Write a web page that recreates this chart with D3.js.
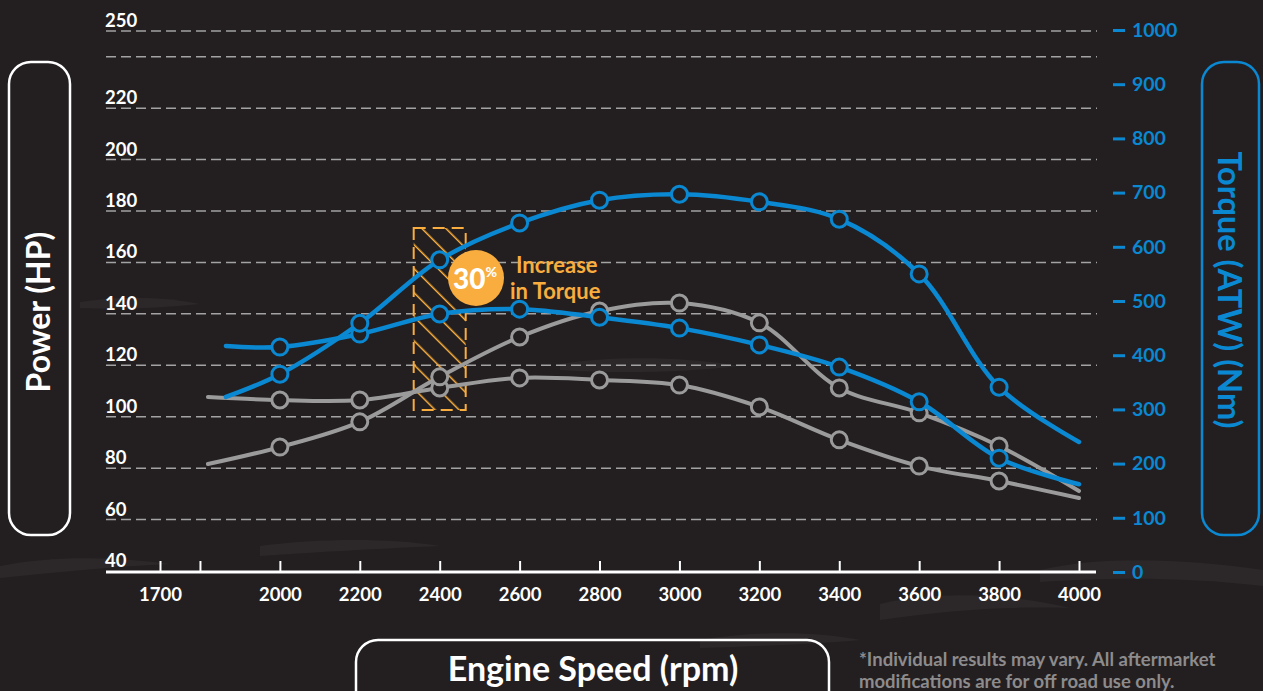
<!DOCTYPE html>
<html>
<head>
<meta charset="utf-8">
<script src="https://cdn.jsdelivr.net/npm/d3@7"></script>
<style>
  html, body { margin: 0; padding: 0; background: #231f20; }
  svg { display: block; font-family: Lato, "Open Sans", sans-serif; }
</style>
</head>
<body>
<div id="chart"></div>
<script>
// --- data ---
var rpm = [2000, 2200, 2400, 2600, 2800, 3000, 3200, 3400, 3600, 3800, 4000];

// torque (Nm, right axis), curves start a bit before 2000 rpm
var torqueStart = 1865;
var torqueTuned = [323, 365, 459, 576, 644, 686, 697, 683, 651, 550, 341, 240];
var torqueStock = [417, 415, 439, 476, 485, 470, 450, 419, 378, 314, 210, 162];

// power (HP, left axis)
var powerStart = 1820;
var powerTuned = [81.6, 88.2, 98.0, 115.5, 131.0, 141.1, 144.2, 136.5, 111.2, 101.5, 88.6, 71.1];
var powerStock = [107.7, 106.5, 106.5, 111.2, 115.1, 114.3, 112.3, 103.8, 91.0, 80.8, 75.0, 68.4];

var xTicks = [1700, 1800, 2000, 2200, 2400, 2600, 2800, 3000, 3200, 3400, 3600, 3800, 4000];
var leftGrid = [60, 80, 100, 120, 140, 160, 180, 200, 220, 240, 250];
var leftLabels = [40, 60, 80, 100, 120, 140, 160, 180, 200, 220, 250];
var rightTicks = [0, 100, 200, 300, 400, 500, 600, 700, 800, 900, 1000];

var BLUE = "#0a88d2",
  GRAY = "#9b9b9b",
  ORANGE = "#f8ad3e",
  BG = "#231f20";

function translate(x, y) {
  return "translate(" + x + ", " + y + ")";
}

// pair up a series with its rpm values (no marker on the first and last point)
function toPoints(start, values) {
  var xs = [start].concat(rpm);
  return values.map(function (v, i) {
    return { rpm: xs[i], value: v, marker: i > 0 && i < values.length - 1 };
  });
}

var w = 1263,
  h = 691;
var svg = d3
  .select("#chart")
  .append("svg")
  .attr("width", w)
  .attr("height", h);

svg.append("rect").attr("width", w).attr("height", h).attr("fill", BG);

// a few faint camo streaks in the background
var camo = [
  "M0,566 C50,556 110,556 170,564 C120,566 60,572 0,578 Z",
  "M260,546 C320,538 390,538 440,546 C390,548 320,552 260,556 Z",
  "M880,604 C940,590 1010,594 1070,608 C1010,606 950,610 880,620 Z",
  "M560,364 C610,356 680,356 740,366 C690,372 620,374 560,370 Z",
  "M1040,570 C1100,556 1180,558 1263,570 L1263,586 C1180,576 1100,578 1040,582 Z",
  "M80,302 C120,296 160,296 200,304 C160,308 120,310 80,308 Z",
  "M700,640 C760,630 820,632 860,640 C820,644 760,646 700,648 Z"
];
svg
  .append("g")
  .selectAll("path")
  .data(camo)
  .enter()
  .append("path")
  .attr("d", function (d) {
    return d;
  })
  .attr("fill", "#2c2829");

// scales
var x = d3.scaleLinear().domain([1700, 4000]).range([160, 1079]);
var yL = d3.scaleLinear().domain([40, 250]).range([571, 31]);
var yR = d3.scaleLinear().domain([0, 1000]).range([572, 30]);

var gridX0 = 106,
  gridX1 = 1097;

// dashed grid
svg
  .append("g")
  .selectAll("line")
  .data(leftGrid)
  .enter()
  .append("line")
  .attr("x1", gridX0)
  .attr("x2", gridX1)
  .attr("y1", function (d) {
    return yL(d);
  })
  .attr("y2", function (d) {
    return yL(d);
  })
  .attr("stroke", "#a3a3a3")
  .attr("stroke-width", 1.5)
  .attr("stroke-dasharray", "10,5");

// left labels sit just above their grid line
svg
  .append("g")
  .selectAll("text")
  .data(leftLabels)
  .enter()
  .append("text")
  .attr("x", gridX0 - 1)
  .attr("y", function (d) {
    return yL(d) - 4;
  })
  .attr("fill", "#fff")
  .attr("font-size", "18.5px")
  .attr("font-weight", "bold")
  .text(function (d) {
    return d;
  });

// right axis (torque)
var rightAxis = svg
  .append("g")
  .attr("transform", translate(1113, 0))
  .call(
    d3
      .axisRight(yR)
      .tickValues(rightTicks)
      .tickSize(12)
      .tickPadding(7)
      .tickFormat(d3.format("d"))
  );
rightAxis.select(".domain").remove();
rightAxis
  .selectAll("line")
  .attr("stroke", BLUE)
  .attr("stroke-width", 3);
rightAxis
  .selectAll("text")
  .attr("fill", BLUE)
  .attr("font-size", "19.5px")
  .attr("font-weight", "bold")
  .attr("font-family", "Lato, sans-serif");

// bottom axis
var xAxis = svg
  .append("g")
  .attr("transform", translate(0, 572))
  .call(
    d3
      .axisBottom(x)
      .tickValues(xTicks)
      .tickSize(-11)
      .tickPadding(16)
      .tickFormat(function (d) {
        return d === 1800 ? "" : d;
      })
  );
xAxis.select(".domain").remove();
xAxis.selectAll("line").attr("stroke", "#fff").attr("stroke-width", 2);
xAxis
  .selectAll("text")
  .attr("fill", "#fff")
  .attr("font-size", "18.5px")
  .attr("font-weight", "bold")
  .attr("font-family", "Lato, sans-serif");
svg
  .append("line")
  .attr("x1", gridX0)
  .attr("x2", gridX1 - 1)
  .attr("y1", 572)
  .attr("y2", 572)
  .attr("stroke", "#fff")
  .attr("stroke-width", 3);

// hatch pattern for the annotation box
var defs = svg.append("defs");
var pat = defs
  .append("pattern")
  .attr("id", "hatch")
  .attr("patternUnits", "userSpaceOnUse")
  .attr("width", 17)
  .attr("height", 17)
  .attr("patternTransform", "rotate(-45)");
pat
  .append("line")
  .attr("x1", 0)
  .attr("y1", 0)
  .attr("x2", 0)
  .attr("y2", 17)
  .attr("stroke", ORANGE)
  .attr("stroke-width", 3);

var boxX = x(2400) - 26,
  boxW = 52,
  boxY = 228,
  boxH = 182;
svg
  .append("rect")
  .attr("x", boxX)
  .attr("y", boxY)
  .attr("width", boxW)
  .attr("height", boxH)
  .attr("fill", "url(#hatch)")
  .attr("stroke", ORANGE)
  .attr("stroke-width", 2)
  .attr("stroke-dasharray", "12,7");

// --- curves ---
var lineL = d3
  .line()
  .x(function (d) {
    return x(d.rpm);
  })
  .y(function (d) {
    return yL(d.value);
  })
  .curve(d3.curveCatmullRom.alpha(0.5));

var lineR = d3
  .line()
  .x(function (d) {
    return x(d.rpm);
  })
  .y(function (d) {
    return yR(d.value);
  })
  .curve(d3.curveCatmullRom.alpha(0.5));

function drawSeries(data, line, yScale, color, width) {
  var g = svg.append("g");
  g.append("path")
    .datum(data)
    .attr("d", line)
    .attr("fill", "none")
    .attr("stroke", color)
    .attr("stroke-width", width)
    .attr("stroke-linecap", "round");
  g.selectAll("circle")
    .data(
      data.filter(function (d) {
        return d.marker;
      })
    )
    .enter()
    .append("circle")
    .attr("cx", function (d) {
      return x(d.rpm);
    })
    .attr("cy", function (d) {
      return yScale(d.value);
    })
    .attr("r", 8)
    .attr("fill", BG)
    .attr("stroke", color)
    .attr("stroke-width", 3);
}

drawSeries(toPoints(powerStart, powerStock), lineL, yL, GRAY, 4);
drawSeries(toPoints(powerStart, powerTuned), lineL, yL, GRAY, 4);
drawSeries(toPoints(torqueStart, torqueStock), lineR, yR, BLUE, 4.5);
drawSeries(toPoints(torqueStart, torqueTuned), lineR, yR, BLUE, 4.5);

// --- 30% badge ---
svg
  .append("circle")
  .attr("cx", 476)
  .attr("cy", 278)
  .attr("r", 28)
  .attr("fill", ORANGE);
var badge = svg
  .append("text")
  .attr("x", 475)
  .attr("y", 289)
  .attr("text-anchor", "middle")
  .attr("fill", "#fff")
  .attr("font-weight", "900")
  .attr("font-size", "28px");
badge.append("tspan").text("30");
badge
  .append("tspan")
  .attr("font-size", "14px")
  .attr("dy", "-12")
  .text("%");

svg
  .append("text")
  .attr("x", 516)
  .attr("y", 273)
  .attr("fill", ORANGE)
  .attr("font-weight", "bold")
  .attr("font-size", "22px")
  .text("Increase");
svg
  .append("text")
  .attr("x", 510)
  .attr("y", 299)
  .attr("fill", ORANGE)
  .attr("font-weight", "bold")
  .attr("font-size", "22px")
  .text("in Torque");

// --- axis title boxes ---
svg
  .append("rect")
  .attr("x", 9)
  .attr("y", 62)
  .attr("width", 61)
  .attr("height", 473)
  .attr("rx", 22)
  .attr("fill", "none")
  .attr("stroke", "#fff")
  .attr("stroke-width", 2.5);
svg
  .append("text")
  .attr("transform", translate(50, 312) + " rotate(-90)")
  .attr("text-anchor", "middle")
  .attr("fill", "#fff")
  .attr("font-weight", "bold")
  .attr("font-size", "32px")
  .text("Power (HP)");

svg
  .append("rect")
  .attr("x", 1202)
  .attr("y", 62)
  .attr("width", 57)
  .attr("height", 473)
  .attr("rx", 22)
  .attr("fill", "none")
  .attr("stroke", BLUE)
  .attr("stroke-width", 2.5);
svg
  .append("text")
  .attr("transform", translate(1218, 290) + " rotate(90)")
  .attr("text-anchor", "middle")
  .attr("fill", BLUE)
  .attr("font-weight", "bold")
  .attr("font-size", "32.5px")
  .text("Torque (ATW) (Nm)");

svg
  .append("rect")
  .attr("x", 356)
  .attr("y", 640)
  .attr("width", 473)
  .attr("height", 80)
  .attr("rx", 22)
  .attr("fill", "none")
  .attr("stroke", "#fff")
  .attr("stroke-width", 2.5);
svg
  .append("text")
  .attr("x", 593)
  .attr("y", 681)
  .attr("text-anchor", "middle")
  .attr("fill", "#fff")
  .attr("font-weight", "bold")
  .attr("font-size", "34px")
  .text("Engine Speed (rpm)");

// footnote
var note = svg
  .append("text")
  .attr("x", 859)
  .attr("fill", "#8d8b8c")
  .attr("font-weight", "bold")
  .attr("font-size", "18.5px");
note.append("tspan").attr("x", 859).attr("y", 666).text("*Individual results may vary. All aftermarket");
note.append("tspan").attr("x", 859).attr("y", 688).text("modifications are for off road use only.");
</script>
</body>
</html>
